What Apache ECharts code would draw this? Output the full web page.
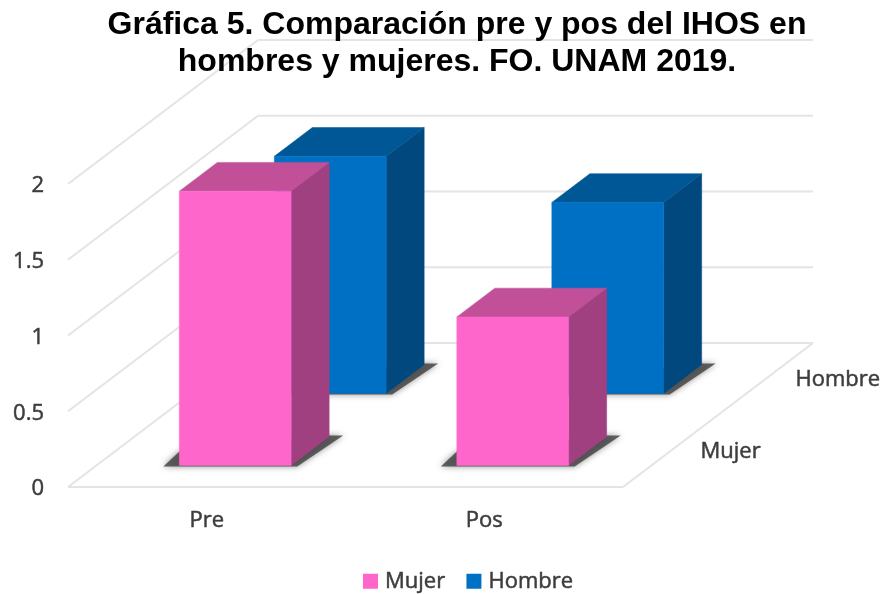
<!DOCTYPE html>
<html>
<head>
<meta charset="utf-8">
<style>html,body{margin:0;padding:0;background:#fff}#c{width:883px;height:594px}</style>
<script src="https://cdn.jsdelivr.net/npm/echarts@6/dist/echarts.min.js"></script>
</head>
<body>
<div id="c"></div>
<script>
const categories = ['Pre', 'Pos'];
const depthCategories = ['Mujer', 'Hombre'];
const mujer = [1.81, 0.98];
const hombre = [1.565, 1.26];
const yTicks = [0, 0.5, 1, 1.5, 2];

const DEPTH = [190, -144];   // pixel vector of the full floor depth
const BAR_W = 0.403;         // bar width as share of a category band
const BAR_D = 0.2;           // bar depth as share of the floor depth
const START = [0.15, 0.65];  // front of the bar in each depth slot
const LABEL_FONT = '"Open Sans"';
const LABEL_COLOR = '#3d3d3d';
const LABEL_STYLE = {
  fontFamily: LABEL_FONT, fontSize: 22, color: LABEL_COLOR,
  textBorderColor: LABEL_COLOR, textBorderWidth: 0.5
};

function barRenderer(depthIndex, topColor, sideColor) {
  return function (params, api) {
    const base = api.coord([api.value(0), 0]);
    const top = api.coord([api.value(0), api.value(1)]);
    const band = api.size([1, 0])[0];
    const dx = DEPTH[0] * START[depthIndex], dy = DEPTH[1] * START[depthIndex];
    const bx = DEPTH[0] * BAR_D, by = DEPTH[1] * BAR_D;
    const hw = band * BAR_W / 2;
    const x0 = base[0] + dx - hw, x1 = base[0] + dx + hw;
    const y0 = base[1] + dy, y1 = top[1] + dy;
    const color = api.visual('color');
    const poly = (points, fill, extra) => ({
      type: 'polygon', shape: { points },
      style: Object.assign({ fill: fill, stroke: fill, lineWidth: 0.5 }, extra || {})
    });
    const soft = { stroke: 'none', lineWidth: 0, shadowBlur: 6, shadowColor: 'rgba(70,70,70,0.7)' };
    return {
      type: 'group',
      children: [
        poly([[x0 - 16, y0 + 1], [x1 + 6, y0 + 1], [x1 + bx + 14, y0 + by - 1], [x1 + bx, y0 + by - 1], [x0, y0 - 14]],
          'rgba(70,70,70,0.85)', soft),
        poly([[x1, y0], [x1 + bx, y0 + by], [x1 + bx, y1 + by], [x1, y1]], sideColor),
        poly([[x0, y1], [x1, y1], [x1 + bx, y1 + by], [x0 + bx, y1 + by]], topColor),
        poly([[x0, y0], [x1, y0], [x1, y1], [x0, y1]], color)
      ]
    };
  };
}
function wallRenderer(params, api) {
  const v = api.value(0);
  const band = api.size([1, 0])[0];
  const first = api.coord([0, v]);
  const last = api.coord([categories.length - 1, v]);
  const a = [first[0] - band / 2, first[1]];
  const right = [last[0] + band / 2, last[1]];
  const b = [a[0] + DEPTH[0], a[1] + DEPTH[1]];
  const c = [right[0] + DEPTH[0], right[1] + DEPTH[1]];
  const lines = [[a, b], [b, c]];
  if (v === 0) { lines.push([a, right], [right, c]); }
  return {
    type: 'group',
    children: lines.map(l => ({
      type: 'line',
      shape: { x1: l[0][0], y1: l[0][1], x2: l[1][0], y2: l[1][1] },
      style: { stroke: '#e4e4e4', lineWidth: 2 }
    }))
  };
}
function depthLabelRenderer(params, api) {
  const band = api.size([1, 0])[0];
  const last = api.coord([categories.length - 1, 0]);
  const f = (params.dataIndex + 0.5) / depthCategories.length;
  return {
    type: 'text',
    style: {
      x: last[0] + band / 2 + DEPTH[0] * f + 30, y: last[1] + DEPTH[1] * f + 1,
      text: depthCategories[params.dataIndex],
      fill: LABEL_COLOR, stroke: LABEL_COLOR, lineWidth: 0.5, font: '22px ' + LABEL_FONT,
      align: 'left', verticalAlign: 'middle'
    }
  };
}

const chart = echarts.init(document.getElementById('c'), null, { renderer: 'canvas' });
chart.setOption({
  animation: false,
  backgroundColor: '#fff',
  title: {
    text: 'Gráfica 5. Comparación pre y pos del IHOS en\nhombres y mujeres. FO. UNAM 2019.',
    left: 457, top: 7, textAlign: 'center', padding: 0,
    textStyle: { fontFamily: '"Liberation Sans"', fontWeight: 'bold', fontSize: 32, lineHeight: 37, color: '#000' }
  },
  legend: {
    data: ['Mujer', 'Hombre'],
    left: 363, top: 570, padding: 0,
    itemWidth: 15, itemHeight: 15, itemGap: 21,
    icon: 'rect',
    textStyle: Object.assign({}, LABEL_STYLE, { padding: [0, 0, 0, 2] })
  },
  grid: { left: 68, right: 260, top: 184, bottom: 107 },
  xAxis: {
    type: 'category', data: categories,
    axisLine: { show: false }, axisTick: { show: false }, splitLine: { show: false },
    axisLabel: Object.assign({ margin: 23 }, LABEL_STYLE)
  },
  yAxis: {
    type: 'value', min: 0, max: 2, interval: 0.5,
    axisLine: { show: false }, axisTick: { show: false }, splitLine: { show: false },
    axisLabel: Object.assign({ margin: 24, verticalAlign: 'top', lineHeight: 4 }, LABEL_STYLE)
  },
  series: [
    { type: 'custom', name: 'walls', silent: true, z: 1, coordinateSystem: 'cartesian2d',
      data: yTicks.map(v => [v]), encode: { y: 0 }, renderItem: wallRenderer, clip: false },
    { type: 'custom', name: 'depth', silent: true, z: 1, coordinateSystem: 'cartesian2d',
      data: depthCategories.map(d => [d]), renderItem: depthLabelRenderer, clip: false },
    { type: 'custom', name: 'Hombre', z: 2, coordinateSystem: 'cartesian2d',
      itemStyle: { color: '#0070c4' },
      data: hombre.map((v, i) => [i, v]), encode: { x: 0, y: 1 },
      renderItem: barRenderer(1, '#005795', '#00487e'), clip: false },
    { type: 'custom', name: 'Mujer', z: 3, coordinateSystem: 'cartesian2d',
      itemStyle: { color: '#ff66cc' },
      data: mujer.map((v, i) => [i, v]), encode: { x: 0, y: 1 },
      renderItem: barRenderer(0, '#c15099', '#a14080'), clip: false }
  ]
});
</script>
</body>
</html>
